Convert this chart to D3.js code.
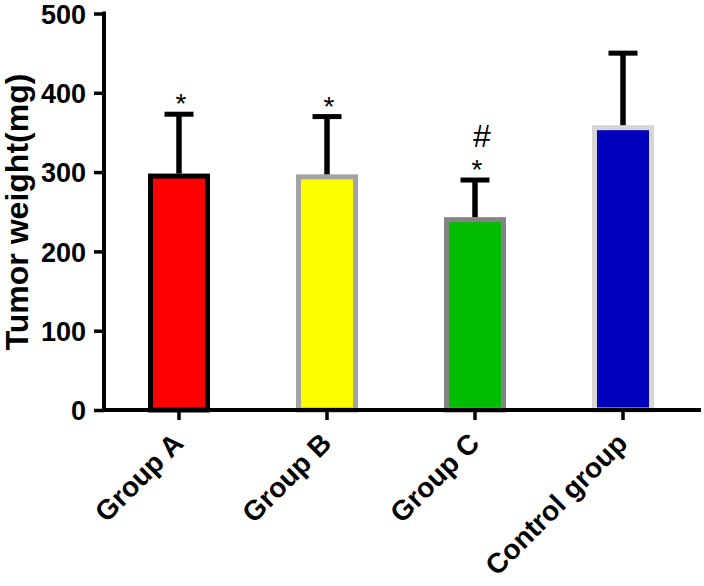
<!DOCTYPE html>
<html>
<head>
<meta charset="utf-8">
<script src="https://cdn.jsdelivr.net/npm/d3@7"></script>
<style>
  body { margin: 0; background: #fff; }
  text { font-family: "Liberation Sans", Arial, sans-serif; }
</style>
</head>
<body>
<script>
// data
var groups = ["Group A", "Group B", "Group C", "Control group"];
var means = [295, 294, 240, 356];
var upperSD = [373, 370, 290, 450];   // top of the error bar
var marks = [["*"], ["*"], ["*", "#"], []];
var yTicks = [0, 100, 200, 300, 400, 500];

var fills = ["#ff0000", "#ffff00", "#00bd00", "#0000bd"];
var strokes = ["#000000", "#a3a3a3", "#848484", "#d6d6d6"];

var width = 704, height = 586;

var svg = d3.select("body").append("svg")
    .attr("width", width)
    .attr("height", height);

var x = d3.scaleBand().domain(groups).range([105, 697]).paddingInner(0.615).paddingOuter(0.3075);
var y = d3.scaleLinear().domain([0, 500]).range([410, 13.5]);

var data = groups.map(function(g, i) {
  return {name: g, mean: means[i], top: upperSD[i], marks: marks[i], fill: fills[i], stroke: strokes[i]};
});

// bars
svg.selectAll(".bar")
  .data(data)
  .enter().append("rect")
    .attr("class", "bar")
    .attr("x", function(d) { return x(d.name); })
    .attr("y", function(d) { return y(d.mean); })
    .attr("width", x.bandwidth())
    .attr("height", function(d) { return y(0) - y(d.mean); })
    .attr("fill", function(d) { return d.fill; })
    .attr("stroke", function(d) { return d.stroke; })
    .attr("stroke-width", 5);

// error bars (upper only)
var cx = function(d) { return x(d.name) + x.bandwidth() / 2; };
svg.selectAll(".err")
  .data(data)
  .enter().append("line")
    .attr("x1", cx).attr("x2", cx)
    .attr("y1", function(d) { return y(d.mean) - 2.5; })
    .attr("y2", function(d) { return y(d.top); })
    .attr("stroke", "#000")
    .attr("stroke-width", 5.5);
svg.selectAll(".cap")
  .data(data)
  .enter().append("line")
    .attr("x1", function(d) { return cx(d) - 14.5; })
    .attr("x2", function(d) { return cx(d) + 14.5; })
    .attr("y1", function(d) { return y(d.top); })
    .attr("y2", function(d) { return y(d.top); })
    .attr("stroke", "#000")
    .attr("stroke-width", 5);

// significance marks
data.forEach(function(d) {
  d.marks.forEach(function(m, j) {
    svg.append("text")
      .text(m)
      .attr("x", cx(d) + (m == "#" ? 7 : 2))
      .attr("y", y(d.top) - (m == "#" ? 33 : 1))
      .attr("text-anchor", "middle")
      .style("font-size", m == "#" ? "32px" : "28px")
      .style("fill", "#000");
  });
});

// y axis
var yAxis = svg.append("g")
  .attr("transform", "translate(104,0)")
  .call(d3.axisLeft(y).tickValues(yTicks).tickSize(10).tickPadding(8).tickFormat(d3.format("d")));
yAxis.select(".domain").attr("stroke-width", 4).attr("d", "M0," + (y(500) - 2) + "V" + (y(0) + 2));
yAxis.selectAll(".tick line").attr("stroke-width", 3.5);
yAxis.selectAll("text")
  .style("font-size", "27px")
  .style("font-weight", "bold")
  .attr("fill", "#000")
  .attr("dy", "0.36em");

// x axis
var xAxis = svg.append("g")
  .attr("transform", "translate(0," + y(0) + ")")
  .call(d3.axisBottom(x).tickSize(10).tickSizeOuter(0));
xAxis.select(".domain").attr("stroke-width", 4).attr("d", "M102,0H701");
xAxis.selectAll(".tick line").attr("stroke-width", 3.5);
xAxis.selectAll("text")
  .style("font-size", "28px")
  .style("font-weight", "bold")
  .attr("fill", "#000")
  .attr("text-anchor", "end")
  .attr("dy", null)
  .attr("y", 0)
  .attr("transform", "translate(6,35) rotate(-45)");

// y label
svg.append("text")
  .text("Tumor weight(mg)")
  .attr("transform", "translate(28,212) rotate(-90)")
  .attr("text-anchor", "middle")
  .style("font-size", "32px")
  .style("font-weight", "bold");
</script>
</body>
</html>
